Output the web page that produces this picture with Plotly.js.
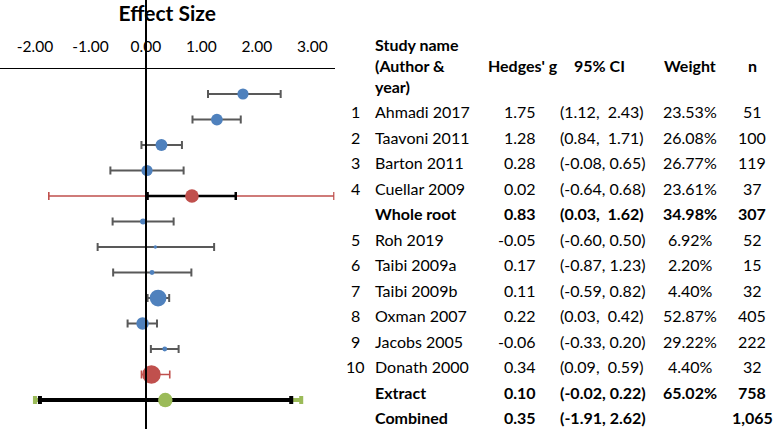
<!DOCTYPE html>
<html>
<head>
<meta charset="utf-8">
<script src="https://cdn.plot.ly/plotly-3.0.1.min.js"></script>
<style>html,body{margin:0;padding:0;background:#fff;}#chart{width:773px;height:429px;}</style>
</head>
<body>
<div id="chart"></div>
<script>
// ---- Data ----
const studyNum   = ['1','2','3','4','','5','6','7','8','9','10','',''];
const studyName  = ['Ahmadi 2017','Taavoni 2011','Barton 2011','Cuellar 2009','Whole root',
                    'Roh 2019','Taibi 2009a','Taibi 2009b','Oxman 2007','Jacobs 2005','Donath 2000',
                    'Extract','Combined'];
const rowType    = ['study','study','study','study','subgroup','study','study','study','study','study','study','subgroup','overall'];
const hedgesG    = [1.75, 1.28, 0.28, 0.02, 0.83, -0.05, 0.17, 0.11, 0.22, -0.06, 0.34, 0.10, 0.35];
const ciLow      = [1.12, 0.84, -0.08, -0.64, 0.03, -0.60, -0.87, -0.59, 0.03, -0.33, 0.09, -0.02, -1.91];
const ciHigh     = [2.43, 1.71, 0.65, 0.68, 1.62, 0.50, 1.23, 0.82, 0.42, 0.20, 0.59, 0.22, 2.62];
const weightPct  = [23.53, 26.08, 26.77, 23.61, 34.98, 6.92, 2.20, 4.40, 52.87, 29.22, 4.40, 65.02, null];
const nSubjects  = [51, 100, 119, 37, 307, 52, 15, 32, 405, 222, 32, 758, 1065];
// prediction intervals drawn for the summary rows
const piLow      = [null, null, null, null, -1.75, null, null, null, null, null, null, -0.08, -2.00];
const piHigh     = [null, null, null, null, 3.39, null, null, null, null, null, null, 0.43, 2.80];
const axisTicks  = [-2, -1, 0, 1, 2, 3];
const headers    = ['Study name<br>(Author &amp;<br>year)', "Hedges' g", '95% CI', 'Weight', 'n'];

// ---- Helpers ----
const FONT = 'Lato, "Open Sans", sans-serif';
const W = 773, H = 429;
const idx = t => rowType.map((r, i) => r === t ? i : -1).filter(i => i >= 0);
const pick = (arr, ids) => ids.map(i => arr[i]);
const sizeOf = w => 2.3 * Math.sqrt(w);
const fmtCI = (lo, hi) => '(' + lo.toFixed(2) + ',' + (lo < 0 ? ' ' : ' \u00a0') + hi.toFixed(2) + ')';

const sIdx = idx('study'), gIdx = idx('subgroup'), oIdx = idx('overall');

function errX(ids, lo, hi, color, thickness, width) {
  return {
    type: 'data', symmetric: false, visible: true,
    array: ids.map(i => hi[i] - hedgesG[i]),
    arrayminus: ids.map(i => hedgesG[i] - lo[i]),
    color: color, thickness: thickness, width: width
  };
}

const traces = [
  { // individual studies
    type: 'scatter', mode: 'markers', x: pick(hedgesG, sIdx), y: sIdx,
    marker: { color: '#4F81BD', opacity: 1, size: sIdx.map(i => sizeOf(weightPct[i])), line: { width: 0 } },
    error_x: errX(sIdx, ciLow, ciHigh, '#595959', 2, 4), hoverinfo: 'skip'
  },
  { // subgroup prediction interval (red)
    type: 'scatter', mode: 'markers', x: pick(hedgesG, gIdx), y: gIdx,
    marker: { color: 'rgba(0,0,0,0)', size: 1 },
    error_x: errX(gIdx, piLow, piHigh, '#C0504D', 1.6, 4), hoverinfo: 'skip'
  },
  { // subgroup CI (black) + marker
    type: 'scatter', mode: 'markers', x: pick(hedgesG, gIdx), y: gIdx,
    marker: { color: '#C0504D', opacity: 1, size: gIdx.map(i => sizeOf(weightPct[i])), line: { width: 0 } },
    error_x: errX(gIdx, ciLow, ciHigh, '#000000', 2.5, 4), hoverinfo: 'skip'
  },
  { // overall prediction interval (green)
    type: 'scatter', mode: 'markers', x: pick(hedgesG, oIdx), y: oIdx,
    marker: { color: 'rgba(0,0,0,0)', size: 1 },
    error_x: errX(oIdx, piLow, piHigh, '#9BBB59', 4, 4), hoverinfo: 'skip'
  },
  { // overall CI (black) + marker
    type: 'scatter', mode: 'markers', x: pick(hedgesG, oIdx), y: oIdx,
    marker: { color: '#9BBB59', opacity: 1, size: 14.5, line: { width: 0 } },
    error_x: errX(oIdx, ciLow, ciHigh, '#000000', 4, 4), hoverinfo: 'skip'
  }
];

// ---- Table annotations ----
const ann = [];
const TF = { family: FONT, size: 16, color: '#000' };
const colX = { num: 355, name: 373, g: 538, ci: 558, w: 690, n: 752 };
const b = (s, i) => rowType[i] === 'study' ? s : '<b>' + s + '</b>';
function addCell(text, xpx, anchor, row) {
  ann.push({ text: text, x: xpx / W, xref: 'paper', xanchor: anchor, y: row, yref: 'y2', yanchor: 'middle',
             showarrow: false, font: TF, align: anchor === 'left' ? 'left' : 'center' });
}
studyName.forEach((name, i) => {
  if (studyNum[i]) addCell(studyNum[i], colX.num, 'center', i);
  addCell(b(name, i), colX.name, 'left', i);
  addCell(b(hedgesG[i].toFixed(2), i), colX.g, 'right', i);
  addCell(b(fmtCI(ciLow[i], ciHigh[i]), i), colX.ci, 'left', i);
  if (weightPct[i] !== null) addCell(b(weightPct[i].toFixed(2) + '%', i), colX.w, 'center', i);
  addCell(b(nSubjects[i].toLocaleString('en-US'), i), colX.n, 'center', i);
});
const headRow = -1.83;
addCell('<b>' + headers[0] + '</b>', colX.name, 'left', headRow);
addCell('<b>' + headers[1] + '</b>', 522.5, 'center', headRow);
addCell('<b>' + headers[2] + '</b>', 599, 'center', headRow);
addCell('<b>' + headers[3] + '</b>', 690, 'center', headRow);
addCell('<b>' + headers[4] + '</b>', 752, 'center', headRow);

const layout = {
  width: W, height: H,
  margin: { l: 0, r: 0, t: 0, b: 0 },
  paper_bgcolor: '#fff', plot_bgcolor: 'rgba(0,0,0,0)',
  showlegend: false,
  font: { family: FONT, color: '#000' },
  xaxis: {
    domain: [0, 334.5 / W], range: [-2.63, 3.40], side: 'top',
    showline: true, linecolor: '#000', linewidth: 1.5,
    zeroline: true, zerolinecolor: '#000', zerolinewidth: 2,
    showgrid: false, ticks: '', tickvals: axisTicks, ticktext: axisTicks.map(v => v.toFixed(2)),
    ticklabelstandoff: 10, tickfont: { family: FONT, size: 15.5, color: '#000' },
    title: { text: '<b>Effect Size</b>', font: { family: FONT, size: 21, color: '#000' }, standoff: 11 },
    automargin: false, fixedrange: true
  },
  yaxis: {
    domain: [1 - 425 / H, 1 - 69.3 / H], range: [12.98, -0.97],
    visible: false, showgrid: false, zeroline: false, fixedrange: true
  },
  yaxis2: {
    domain: [0, 1], range: [12.44, -4.38], anchor: 'free', position: 0.99,
    visible: false, showgrid: false, zeroline: false, fixedrange: true
  },
  annotations: ann
};

Plotly.newPlot('chart', traces, layout, { displayModeBar: false, staticPlot: true });
</script>
</body>
</html>
